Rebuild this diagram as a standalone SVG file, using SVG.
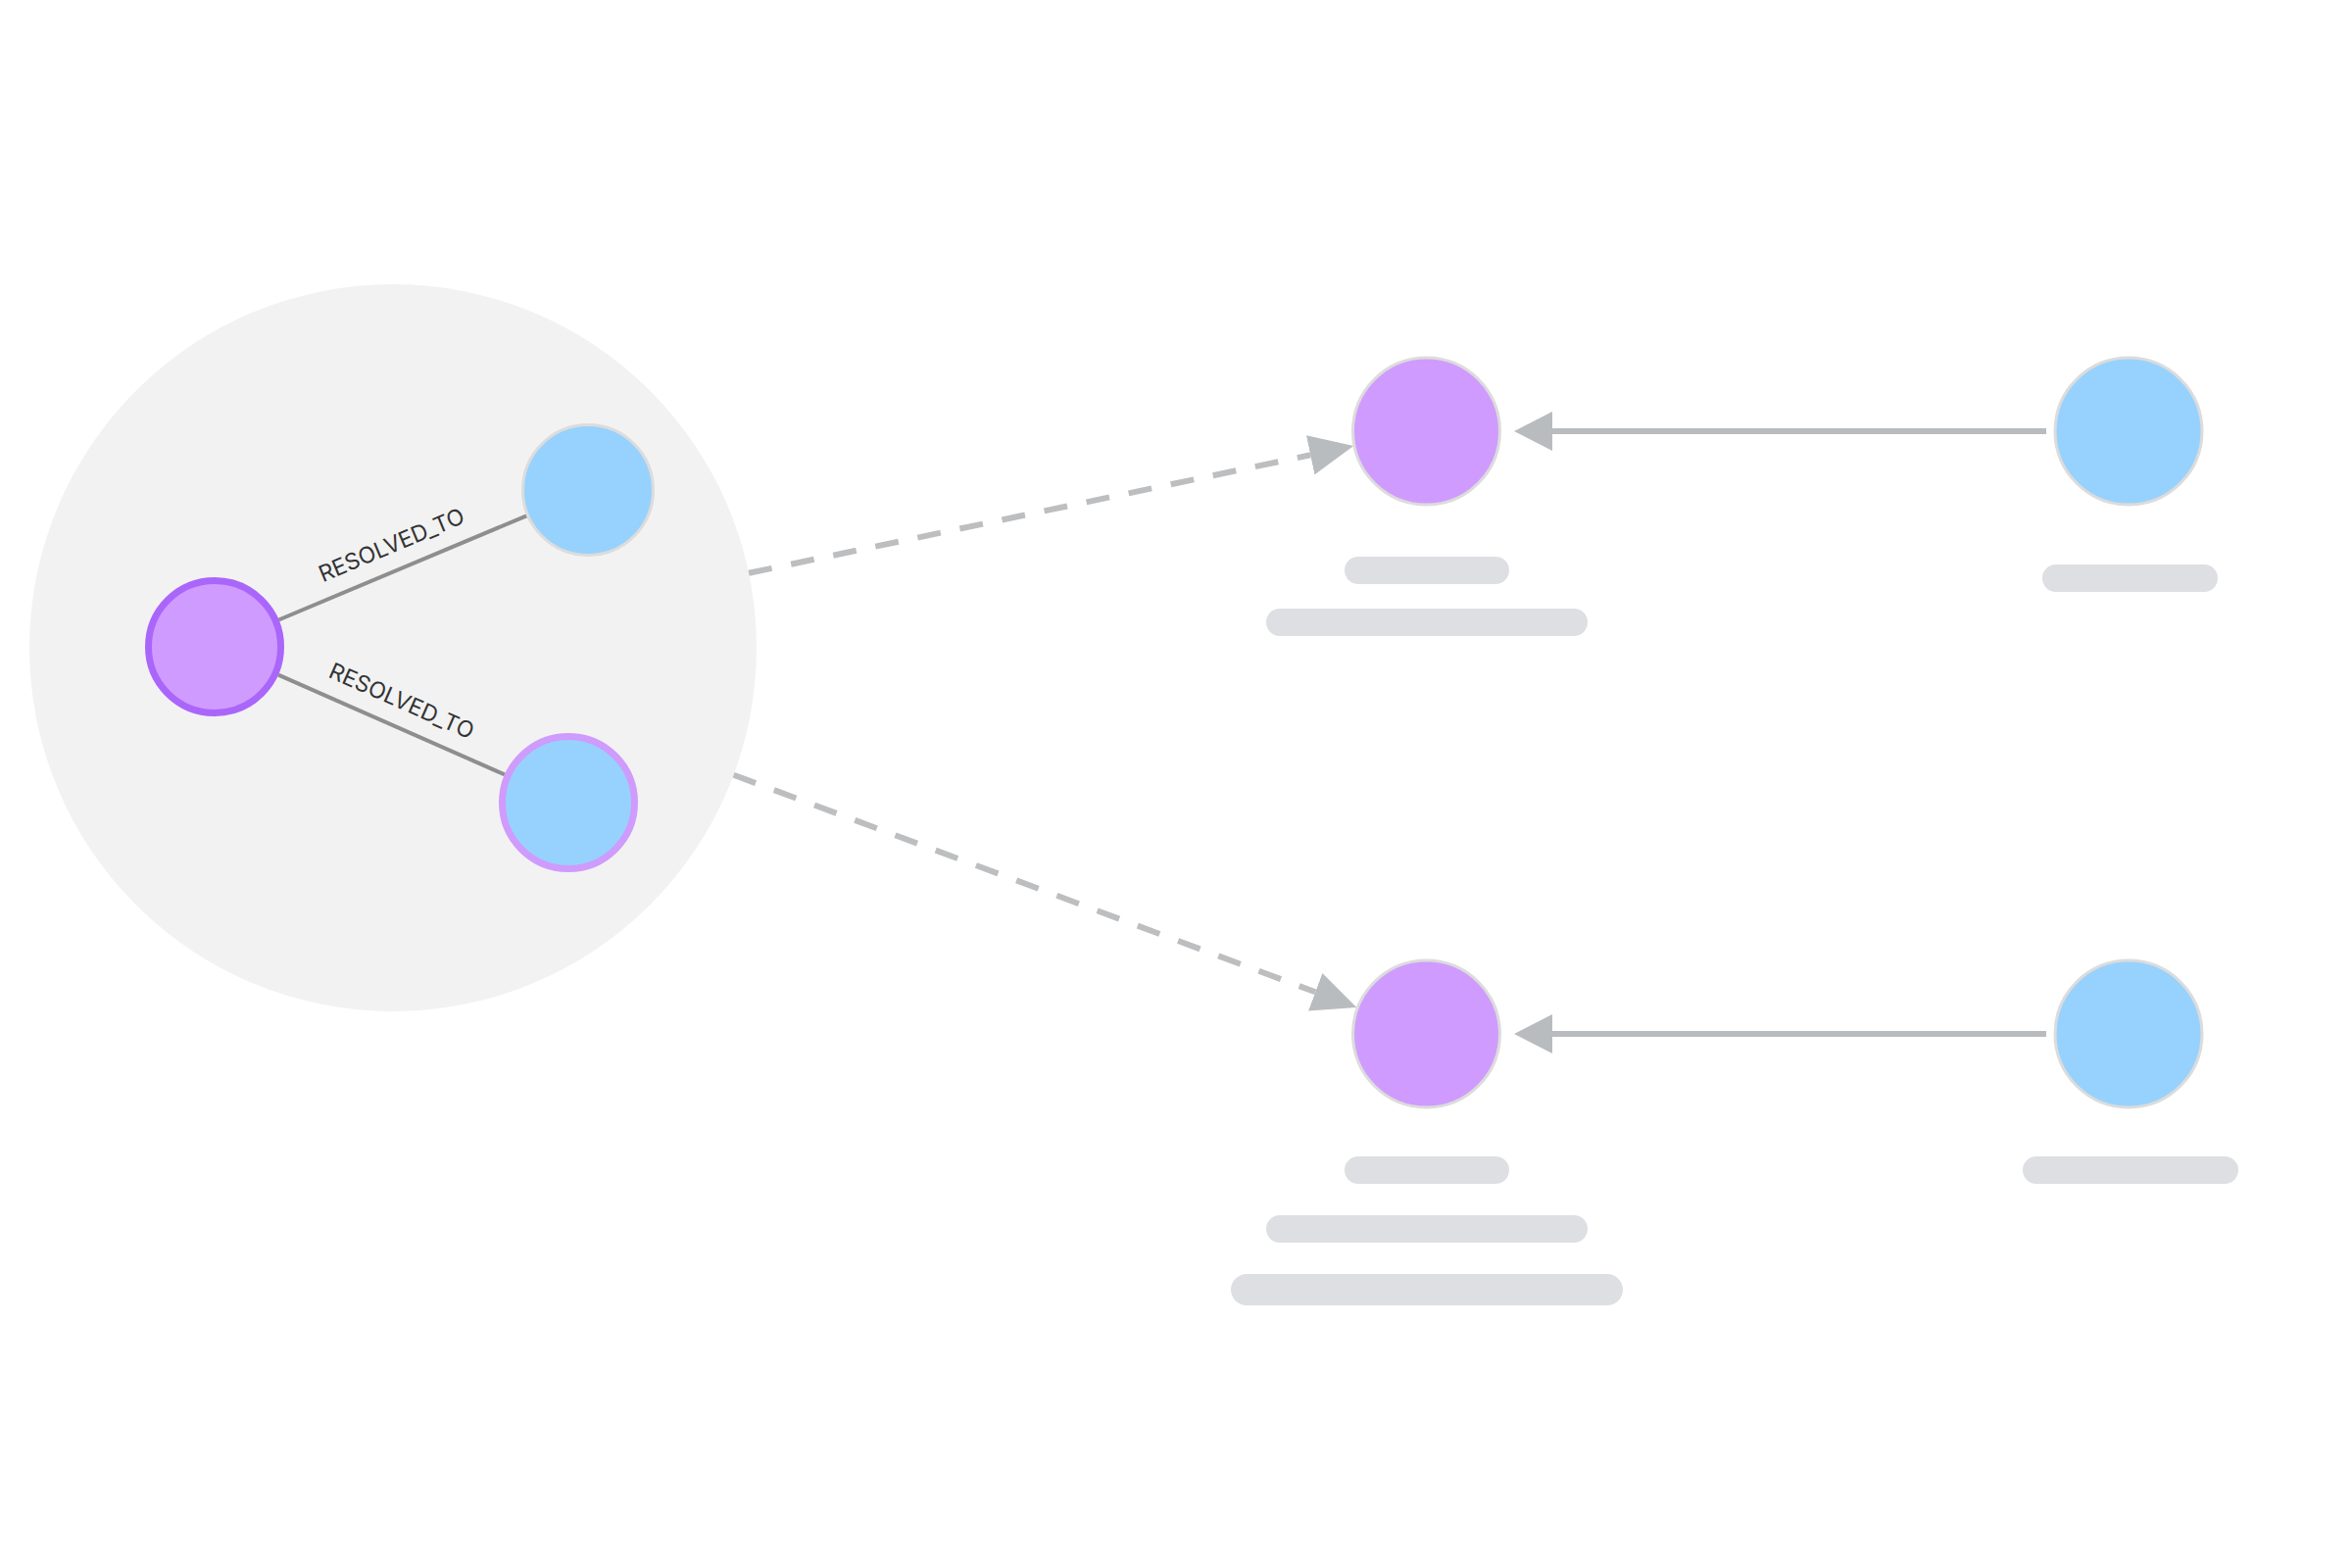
<svg xmlns="http://www.w3.org/2000/svg" width="2400" height="1600" viewBox="0 0 2400 1600">
  <defs>
    <style>
      .purple { fill: #d09bfe; }
      .blue { fill: #97d2fe; }
      .ring-gray { stroke: #dcdcdc; stroke-width: 3; }
      .ring-dark { stroke: #aa66fa; stroke-width: 7; }
      .ring-light { stroke: #cf9bfc; stroke-width: 7; }
      .edge { stroke: #8e8e8e; stroke-width: 4; fill: none; }
      .dash { stroke: #bcbec0; stroke-width: 6; fill: none; stroke-dasharray: 24 20; }
      .solid { stroke: #b9bcbf; stroke-width: 6; fill: none; }
      .bar { fill: #dedfe3; }
      .lbl { font-family: Inter, "Liberation Sans", sans-serif; font-size: 23px; fill: #333333; text-anchor: middle; }
    </style>
    <marker id="headDash" viewBox="0 0 45 41" refX="0" refY="20.5" markerWidth="45" markerHeight="41" markerUnits="userSpaceOnUse" orient="auto">
      <path d="M0,0 L45,20.5 L0,41 Z" fill="#b9bcbf"/>
    </marker>
    <marker id="headSolid" viewBox="0 0 39 40" refX="0" refY="20" markerWidth="39" markerHeight="40" markerUnits="userSpaceOnUse" orient="auto">
      <path d="M0,0 L39,20 L0,40 Z" fill="#b9bcbf"/>
    </marker>
  </defs>

  <rect width="2400" height="1600" fill="#ffffff"/>

  <g id="cluster">
    <circle cx="401" cy="661" r="371" fill="#f2f2f2"/>
  </g>

  <g id="connectors">
    <line class="edge" x1="284.5" y1="632.5" x2="537.3" y2="526.3"/>
    <line class="edge" x1="284" y1="688.6" x2="515" y2="790.4"/>
    <text class="lbl" transform="translate(409.6,580) rotate(-22.78)" y="-18">RESOLVED_TO</text>
    <text class="lbl" transform="translate(399.4,739) rotate(23.77)" y="-18">RESOLVED_TO</text>
    <line class="dash" x1="764.1" y1="584.8" x2="1337.2" y2="464.3" marker-end="url(#headDash)"/>
    <line class="dash" x1="748.6" y1="790.7" x2="1342.2" y2="1012.3" marker-end="url(#headDash)"/>
    <line class="solid" x1="2088" y1="440" x2="1584" y2="440" marker-end="url(#headSolid)"/>
    <line class="solid" x1="2088" y1="1055" x2="1584" y2="1055" marker-end="url(#headSolid)"/>
  </g>

  <g id="node-a">
    <circle class="purple ring-dark" cx="219" cy="660" r="67.5"/>
  </g>
  <g id="node-b">
    <circle class="blue ring-gray" cx="600" cy="500" r="66.5"/>
  </g>
  <g id="node-c">
    <circle class="blue ring-light" cx="580" cy="819" r="67.5"/>
  </g>

  <g id="node-d1">
    <circle class="purple ring-gray" cx="1455.5" cy="440" r="75"/>
    <rect class="bar" x="1372" y="568" width="168" height="28" rx="14"/>
    <rect class="bar" x="1292" y="621" width="328" height="28" rx="14"/>
  </g>
  <g id="node-e1">
    <circle class="blue ring-gray" cx="2172" cy="440" r="75"/>
    <rect class="bar" x="2084" y="576" width="179" height="28" rx="14"/>
  </g>
  <g id="node-d2">
    <circle class="purple ring-gray" cx="1455.5" cy="1055" r="75"/>
    <rect class="bar" x="1372" y="1180" width="168" height="28" rx="14"/>
    <rect class="bar" x="1292" y="1240" width="328" height="28" rx="14"/>
    <rect class="bar" x="1256" y="1300" width="400" height="32" rx="16"/>
  </g>
  <g id="node-e2">
    <circle class="blue ring-gray" cx="2172" cy="1055" r="75"/>
    <rect class="bar" x="2064" y="1180" width="220" height="28" rx="14"/>
  </g>
</svg>
